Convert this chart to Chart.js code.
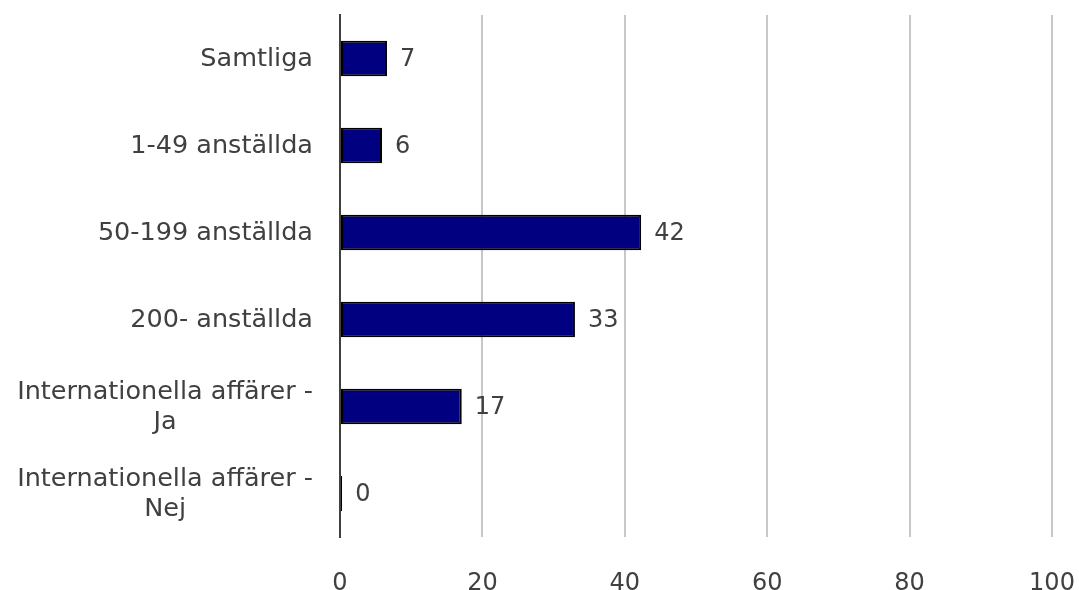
<!DOCTYPE html>
<html>
<head>
<meta charset="utf-8">
<script src="https://cdn.jsdelivr.net/npm/chart.js@4"></script>
<style>
  html, body { margin: 0; padding: 0; background: #ffffff; }
  #wrap { width: 1079px; height: 590px; }
</style>
</head>
<body>
<div id="wrap"><canvas id="c" width="1079" height="590"></canvas></div>
<script>
const categories = [
  'Samtliga',
  '1-49 anställda',
  '50-199 anställda',
  '200- anställda',
  ['Internationella affärer -', 'Ja'],
  ['Internationella affärer -', 'Nej']
];
const values = [6.6, 5.9, 42.3, 33.0, 17.1, 0.3];
const xTicks = [0, 20, 40, 60, 80, 100];

const FONT = '"DejaVu Sans", Verdana, sans-serif';
const TEXT = '#404040';

const labelPlugin = {
  id: 'customLabels',
  afterDatasetsDraw(chart) {
    const ctx = chart.ctx;
    const meta = chart.getDatasetMeta(0);
    ctx.save();
    ctx.font = '24px ' + FONT;
    ctx.fillStyle = TEXT;
    ctx.textBaseline = 'middle';
    ctx.textAlign = 'left';
    meta.data.forEach((bar, i) => {
      ctx.fillText(String(Math.round(values[i])), bar.x + 13, bar.y + 1);
    });
    // category labels
    ctx.font = '25.5px ' + FONT;
    const yScale = chart.scales.y;
    const right = chart.chartArea.left - 27;
    categories.forEach((cat, i) => {
      const lines = Array.isArray(cat) ? cat : [cat];
      const maxW = Math.max(...lines.map(l => ctx.measureText(l).width));
      const cx = right - maxW / 2;
      const yc = yScale.getPixelForValue(i);
      ctx.textAlign = 'center';
      lines.forEach((l, j) => {
        ctx.fillText(l, cx, yc + 1 + (j - (lines.length - 1) / 2) * 30);
      });
    });
    ctx.restore();
  }
};

new Chart(document.getElementById('c'), {
  type: 'bar',
  data: {
    labels: categories.map(c => Array.isArray(c) ? c.join(' ') : c),
    datasets: [{
      data: values,
      backgroundColor: '#000080',
      borderColor: '#000000',
      borderWidth: 2,
      borderSkipped: false,
      categoryPercentage: 1,
      barPercentage: 0.41
    }]
  },
  options: {
    indexAxis: 'y',
    responsive: false,
    animation: false,
    devicePixelRatio: 1,
    layout: { padding: { top: 15, right: 0, left: 0, bottom: 0 } },
    plugins: { legend: { display: false }, tooltip: { enabled: false } },
    scales: {
      x: {
        min: 0,
        max: 100,
        afterBuildTicks(scale) { scale.ticks = xTicks.map(v => ({ value: v })); },
        afterFit(scale) {
          scale.height = 53;
          scale.paddingRight = 27;
          scale.paddingLeft = 0;
        },
        grid: { color: '#c8c8c8', lineWidth: 2, drawTicks: false },
        border: { display: false },
        ticks: {
          color: TEXT,
          font: { family: FONT, size: 24 },
          padding: 32,
          maxRotation: 0
        }
      },
      y: {
        afterFit(scale) { scale.width = 340; },
        grid: { display: false },
        border: { display: true, color: '#404040', width: 2 },
        ticks: { display: false }
      }
    }
  },
  plugins: [labelPlugin]
});
</script>
</body>
</html>
